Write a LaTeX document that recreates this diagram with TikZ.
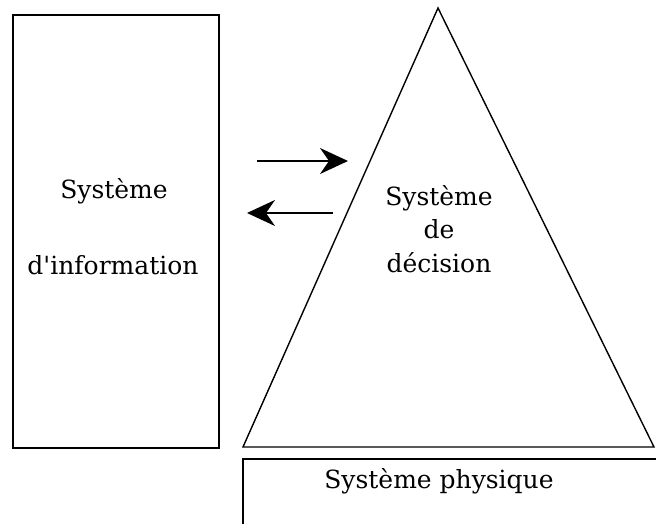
\documentclass[tikz,border=0pt]{standalone}
\usepackage{fontspec}
\setmainfont{DejaVu Serif}
\usepackage{tikz}
\usetikzlibrary{arrows.meta}
\usetikzlibrary{positioning}

\begin{document}
\begin{tikzpicture}
[x=1pt,y=-1pt,>={Stealth[length=28pt,width=26pt,inset=9pt]},every node/.style={font=\fontsize{25}{30}\selectfont,anchor=base},line width=1.4pt]

\useasboundingbox (0,0) rectangle (656,523);

\coordinate (top) at (438,8);
\coordinate (bl) at (243,447);
\coordinate (br) at (654,447);

\node[draw,minimum width=206pt,minimum height=433pt,inner sep=0pt,anchor=center] (info) at (116,231.5) {};
\node (info1) at (114,198) {Système};
\node (info2) at (113,274) {d\textquotesingle information};

\draw (top) -- (bl) -- (br) -- cycle;
\node (dec1) at (439,205) {Système};
\node (dec2) at (439,238) {de};
\node (dec3) at (439,272) {décision};

\coordinate (ph1) at (657,459);
\coordinate (ph2) at (243,459);
\coordinate (ph3) at (243,524);
\draw (ph1) -- (ph2) -- (ph3);
\node (phys) at (439,488) {Système physique};

\coordinate (a1) at (257,161);
\coordinate (a2) at (348,161);
\coordinate (b1) at (333,213);
\coordinate (b2) at (247,213);
\draw[->] (a1) -- (a2);
\draw[->] (b1) -- (b2);

\end{tikzpicture}
\end{document}
